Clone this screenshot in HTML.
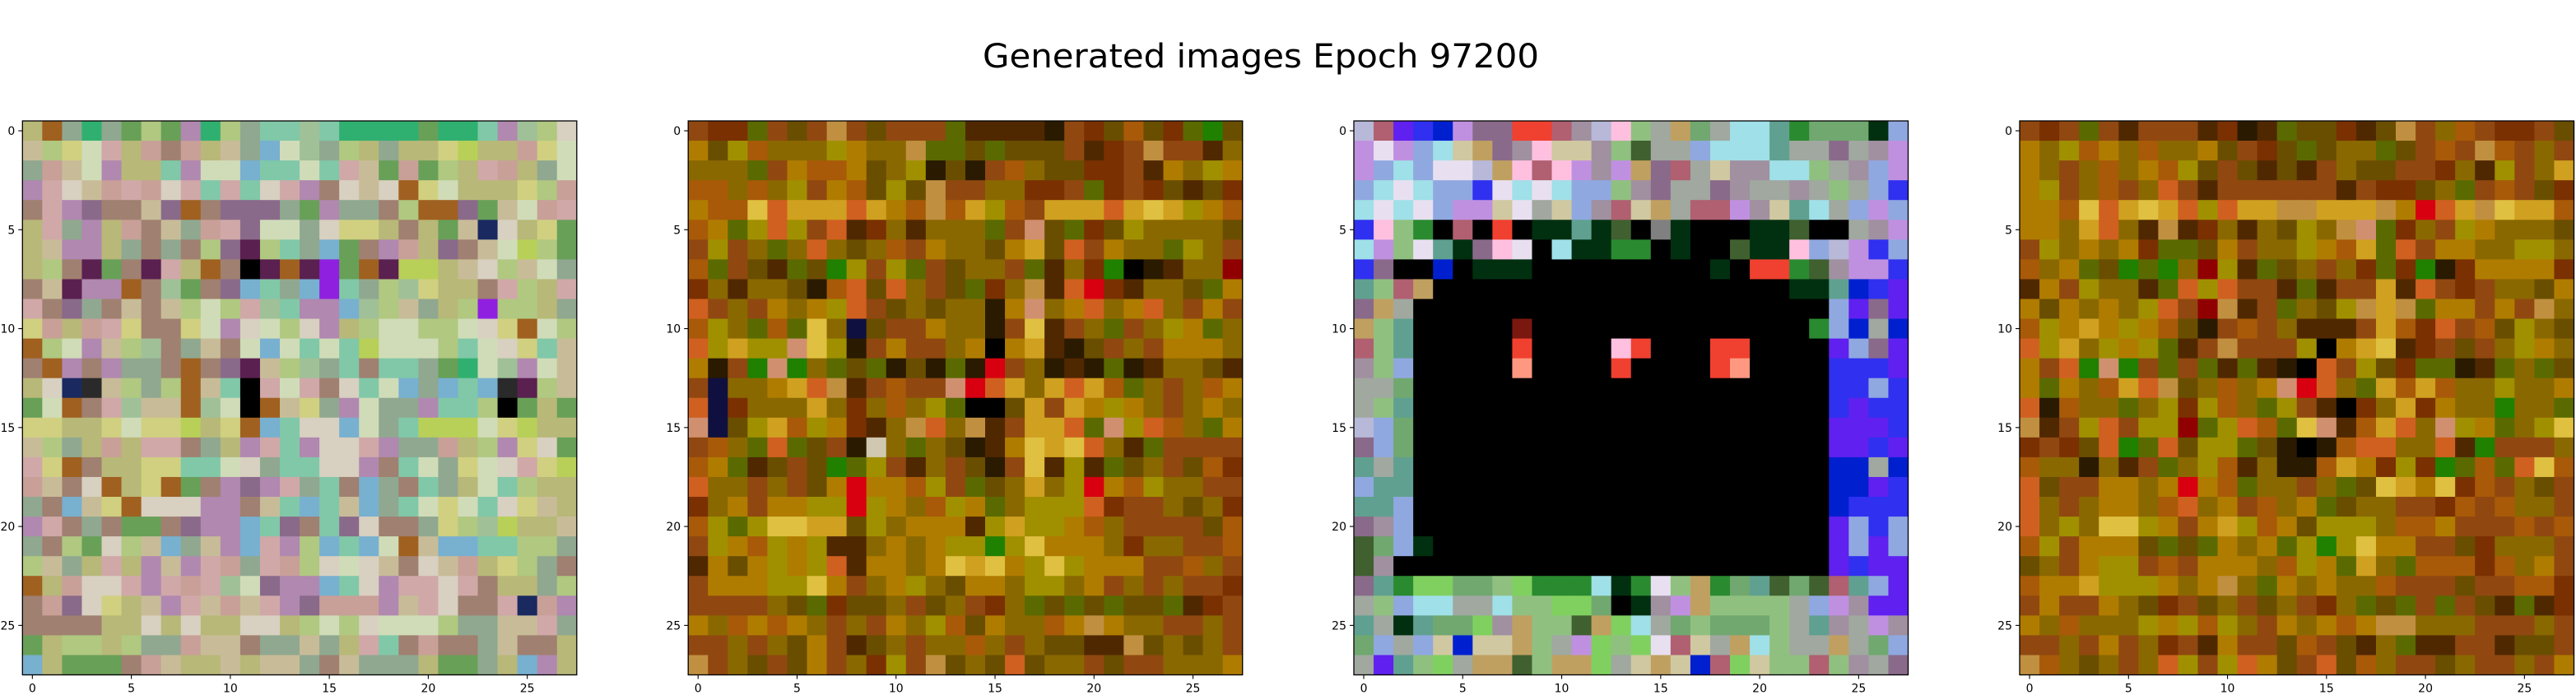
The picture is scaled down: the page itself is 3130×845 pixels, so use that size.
<!DOCTYPE html>
<html><head><meta charset="utf-8"><style>
html,body{margin:0;padding:0;background:#fff;}
svg{display:block;font-family:"DejaVu Sans","Liberation Sans",sans-serif;}
</style></head><body>
<svg id="fig" width="3130" height="845" viewBox="0 0 3130 845" xmlns="http://www.w3.org/2000/svg">
<rect width="3130" height="845" fill="#fff"/>
<text x="1532" y="82" font-size="40" text-anchor="middle" textLength="676" lengthAdjust="spacingAndGlyphs" fill="#000">Generated images Epoch 97200</text>
</svg>
<script>
// ---- data: each panel is 28 rows of 28 palette keys (spaces ignored) ----
const tickValues = [0, 5, 10, 15, 20, 25];
const tickLabels = ["0", "5", "10", "15", "20", "25"];

const palette1 = {p:"#c8a098",q:"#b0c880",s:"#c8bc98",t:"#90a890",u:"#b088b0",v:"#d0dcb8",w:"#80c8a8",y:"#d0d080",z:"#a08070",g:"#68a058",m:"#8a6a8a",k:"#2a2a2a",b:"#78b0d0",c:"#b8b878",d:"#d0a8a8",e:"#a0c098",f:"#d8d0c0",h:"#30b070",i:"#5a2050",j:"#9020e0",n:"#1a2a60",o:"#a06020",x:"#000000",l:"#b8d058"};
const image1 = [
"coth tgqg uhqt wwew hhhh ghhw ueqf","sqyv dcpz pcst bvet qctc cylc cpyv","tpsv uccw uvvb wwvw dsgp gqcd pctv",
"udfs pdpf dwdw fduz fsfo yvcc cyqp","zdum zzsm ozmm mtgu ttzq oomg svpd","cdtu cpzs tpdm vvtf yycz cgsn fcyg",
"csuu ctzt zqmi qwtb gzup cmzs vlqg","cqzi gzid cozx ioij goil lcsf qsvt","zsiu uoze gzmb wtbj wtqe yccz dqcd",
"dzmt zszs qvqd ewuu beqs tcqj qqct","ypcp dyzz yvuf vqfu cqvv qqvf yovq","oqvu sqez tszv bvwv wlvv vqwv fyws",
"zouz uttz ozmi sqet wzww tghv euvs","cfnk sqtq oswx dvdz fwvb tbwb kiqs","gvoz dess oevx osyt uvtt uwwq xgcg",
"yycc yvyy lcyo bwff bvtw lllv ylcc","sqtc pcdd ztcu dwuf fdut tpcq uyfg","dyoz ccyy wwvf twwf fuzw vtyv fdyl",
"pszf ocyo gzum udtw zbtz wtcv wqcc","tzbs yoff fuuz swbw sbtw vyvw fysc","udzt zggz muub wmzw mfzz tyqe lccs",
"tzqg fqsb tsub duqb wbvo sbbw wqqt","qstc dcus udpt dpqf vfsz fspc yqtz","ocpf fdud pdev muub wfud dfdz cctq",
"zpmf ycsu dsps dump ppus dfzz dnpu","zzzz ccfc fccf fcqv qfvv vqtt ssdt","gcqq cqtt pssz ttst cdwz pzzt szzc",
"bcgg gzps ccsc sstz sttt cggt cbuc"];

const palette2 = {a:"#a85a08",b:"#8a6800",c:"#b07c00",d:"#6a4e00",e:"#d0a020",f:"#7a3000",g:"#5a6a00",h:"#e0c040",k:"#2a1a00",r:"#d80010",R:"#900000",n:"#101040",o:"#d06020",x:"#000000",y:"#a09000",m:"#904810",s:"#c09040",t:"#208000",p:"#d09070",z:"#502800",u:"#d0c8b0"};
const image2 = [
"mffg mdms mdmm mgzz zzkm fdad fgtd","cdya bbby cbbs ggdg dddm zfms mmzb","bbbg mcaa cdby kdkm abdd ffmz cbyc",
"aaba bymc adyd smmb bffm gfmf dzdf","caah oeee oeca saey amee eoeh eyca","acgy oymo zfbz bbbg mpdg fdyb bbbd",
"mymb gbob dbam cbbd cedo mcbb gybm","agmd zgdt ymyg mdbb mgzb ftxk zbbR","fbzb bdka odob mdgf bszo rfzb bdgc",
"ombm cbcy omdb dbbk cpbc obco bmcm","aybg aghb ndmm cbbk mhzm bgmb ycgb","oyey yphy kmcm mbcx cezk dmbm cccb",
"ckmt ptbg dgkd kgkr mbkz kgkz bbdz","mnbb ceos zmam mpro ebeo eagb mbac","onfb bbeb fbab ygxx deme cycb mbcb",
"pndy eayc fzbs obsz meeo gpyo abgc","mabg ogdm kubg bdkz cheh obzg mmmm","acgz dmdt gymz bmdk mhzy zgdb mdaf",
"obbm bmdc rcca ymgd beby rcay bbmm","fbcm ccyy rycb aycg byyy ofmm bdbf","aygy hhee dybc cczy eyyc abmm mmda",
"myca ycyz zbcb cyyt yhcc cbfb bmma","zcdc ycyo zccb cheh cyhy cccm mabm","mccc yyhc mbcy bdcc byyb cmbm bmmf",
"mmmm bdgf ddbm dbmf bgdg dgdd gzfm","cbac acbm bmcb yadc bbac scbb mmbm","mmbm bdcm zdbm bbab mbdd zzsd bdbm",
"smbd mdcm bfym sdbd odbb mdmm bbbc"];

const palette3 = {a:"#b8b8d8",b:"#c090e0",c:"#90a8e0",e:"#a0e0e8",f:"#e8e0f0",g:"#70a870",h:"#60a090",i:"#3030f0",j:"#6020f0",k:"#000000",l:"#a090a0",m:"#8a6a8a",n:"#c0a060",o:"#f04030",O:"#ff9880",p:"#ffc0e0",q:"#90c080",r:"#b06070",R:"#7a1810",s:"#a0a8a0",t:"#2a8a30",u:"#d0c8a0",v:"#0020d0",w:"#80d060",x:"#003010",y:"#406030"};
const image3 = [
"arji vbmm oorl apqs ngse ehtg ggxc","bfbc eunm lpuu lqys scee ehss mslb","bcec ffan prpb lbnm rsul leeq slcb",
"cefe ccif efec cqlm ssml ssls qsci","efef cbbu fsuc lrun srrb luhe scbc","ipqt krko kxxh xykd xkkk xxyk kslb",
"ebqf hxmp fkex xttk xkky xxpc abic","imkk vkxx xkkk kkkk kkxk ooty lbbi","hqrn kkkk kkkk kkkk kkkk kkxx hvij",
"mnsk kkkk kkkk kkkk kkkk kkkk cjmj","nqhk kkkk Rkkk kkkk kkkk kkkt cvsv","rqhk kkkk okkk kpok kkoo kkkk jcmj",
"lqck kkkk Okkk kokk kkoO kkkk iiij","ssgk kkkk kkkk kkkk kkkk kkkk iici","sqhk kkkk kkkk kkkk kkkk kkkk ijii",
"acgk kkkk kkkk kkkk kkkk kkkk jjji","mcgk kkkk kkkk kkkk kkkk kkkk jjij","hshk kkkk kkkk kkkk kkkk kkkk vvsv",
"chhk kkkk kkkk kkkk kkkk kkkk vvji","hhck kkkk kkkk kkkk kkkk kkkk viii","mlck kkkk kkkk kkkk kkkk kkkk jcic",
"ygcx kkkk kkkk kkkk kkkk kkkk jcjc","ylkk kkkk kkkk kkkk kkkk kkkk jijj","mhtw wggq wttt extf qntg hygy rhcj",
"sqce esse qqww gkxl bnqq qqsc bljj","hsxh ggwl nqqy nwes gqgg gqsh lsbl","gcsc uvuu nqsb wqwf rusn eqss nsgc",
"sjhq wsnn yqnn wsun uvrw uqqr qlsm"];

const palette4 = palette2;
const image4 = [
"mfmg mzmm mzfk zgdd fzds mbam ffmd","cbya cbab bcdm fdgd bbgd mams ambm","cbmb abca ydmd zdzm bddm mfbz ymbe",
"cymb ambo mzmm mmmm zmff dbgm amdf","ccah oehe oyoe esse eesc roes heea","ccbe obzs zfbz bdyb spgf bmyc bbbd",
"mybc bcfg gdcm bbyc aego mccb byyb","abcg dtgt bRyz gdbm bfgf tkfc cccf","zcmy bbzg oyom mzgz mmez omfm bbdc",
"cdcb cbyo mRsz mgbd yses gccm cmsb","ayce cyca dkma mbzz zmea foma dybd","oyeb ycyg zmsm mmyx cehz fmdm bycb",
"cmot ptmg mgzg zkxo mydf ggkz gbgd","cgcb aeos dbab cpro bgea eabb ybbc","okab bgby fyab gymz xfbe fcbb tbbg",
"szmy omyy Rgyo aghp zaeo bpyc gbyh","fmfd otgo dyyg dkxk aoob bozt mmmb","abbk bzmg byaz bkka ecfy ftga goha",
"odmm ccbc rcag bbmb gdhe chfa mbdm","obmb ccba obcm abcg dbbm mfam abbm","obyb hhyc mcey acdy yyba acmm mama",
"aymc ccdg dgcb cgyt yhcc mmdf bbbm","dbmc yyma mccc bayc gebg aaaf abcm","acce yyyc bcsb gcbc bbam mmdm maaf",
"mcmm cbdf mdbm dbmf bgdg mgmd zgzf","cbab bbyc yayb mcbc acss bbbm mmbm","mmbm cmbf mzcm mdam dzbg zzmm zddm",
"sabd bmbo ymyo cdmo dabm mdbm mbmc"];

const panels = [
  {img:image1, pal:palette1, x:27.3},
  {img:image2, pal:palette2, x:836.2},
  {img:image3, pal:palette3, x:1645},
  {img:image4, pal:palette4, x:2454}
];
const NS = "http://www.w3.org/2000/svg";
const svg = document.getElementById('fig');
const TOP = 147, SIZE = 673.5, N = 28;
function mk(tag, attrs, parent){const e=document.createElementNS(NS,tag);for(const k in attrs)e.setAttribute(k,attrs[k]);parent.appendChild(e);return e;}

panels.forEach((P, pi) => {
  const g = mk('g', {}, svg);
  
  
  const cs = SIZE / N;
  const sx = c => P.x + c * cs;
  const sy = r => TOP + r * cs;
  P.img.forEach((rowStr, r) => {
    const row = rowStr.replace(/\s/g, '');
    for (let c = 0; c < N; c++) {
      const ch = row[c] || row[row.length-1];
      const rect = mk('rect', {x:sx(c).toFixed(2), y:sy(r).toFixed(2), width:(cs+0.6).toFixed(2), height:(cs+0.6).toFixed(2), fill:P.pal[ch] || '#808080'}, g);
      
      
    }
  });
  const frame = mk('rect', {x:P.x, y:TOP, width:SIZE, height:SIZE, fill:'none', stroke:'#000', 'stroke-width':1.3}, g);
  
  
  tickValues.forEach((v, i) => {
    const cx = sx(v + 0.5), cy = sy(v + 0.5);
    mk('line', {x1:cx, x2:cx, y1:TOP+SIZE, y2:TOP+SIZE+5, stroke:'#000', 'stroke-width':1.1}, g);
    const xl = mk('text', {x:cx, y:TOP+SIZE+21, 'font-size':14, 'text-anchor':'middle', fill:'#000'}, g);
    xl.textContent = tickLabels[i];
    
    
    mk('line', {x1:P.x-5, x2:P.x, y1:cy, y2:cy, stroke:'#000', 'stroke-width':1.1}, g);
    const yl = mk('text', {x:P.x-9, y:cy+5, 'font-size':14, 'text-anchor':'end', fill:'#000'}, g);
    yl.textContent = tickLabels[i];
    
    
  });
});
</script>
</body></html>
